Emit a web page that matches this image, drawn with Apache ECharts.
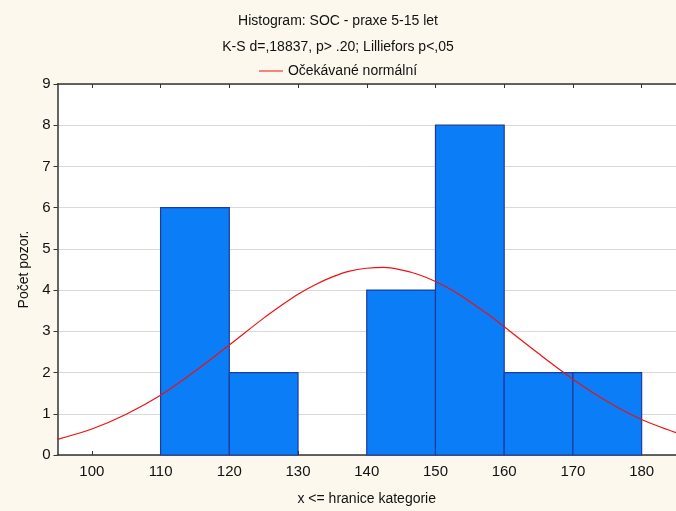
<!DOCTYPE html>
<html><head><meta charset="utf-8">
<script src="https://cdn.jsdelivr.net/npm/echarts@6/dist/echarts.min.js"></script>
<style>html,body{margin:0;padding:0;background:#fdf8ee}#c{width:676px;height:511px}</style>
</head><body><div id="c"></div>
<script>
var binStart = [110, 120, 130, 140, 150, 160, 170];
var binEnd   = [120, 130, 140, 150, 160, 170, 180];
var counts   = [6, 2, 0, 4, 8, 2, 2];
var curveX = [95,100,105,110,115,120,125,127.5,130,132.5,135,137.5,140,142.5,145,147.5,150,152.5,155,157.5,160,165,170,175,180,185];
var curveY = [0.38,0.63,0.99,1.45,2.03,2.67,3.32,3.62,3.90,4.13,4.32,4.46,4.53,4.55,4.49,4.38,4.21,3.99,3.72,3.43,3.11,2.46,1.84,1.30,0.86,0.54];
var xTicks = [100,110,120,130,140,150,160,170,180];
var title1 = 'Histogram: SOC - praxe 5-15 let';
var title2 = 'K-S d=,18837, p> .20; Lilliefors p<,05';
var legendName = 'Očekávané normální';

var font = '"Liberation Sans", Arial, sans-serif';
var chart = echarts.init(document.getElementById('c'));
var barData = binStart.map(function(s, i){ return [s, binEnd[i], counts[i]]; });
var curveData = curveX.map(function(x, i){ return [x, curveY[i]]; });

chart.setOption({
  backgroundColor: '#fdf8ee',
  animation: false,
  title: [
    {text: title1, left: 'center', top: 9, textStyle:{fontFamily: font, fontSize: 14, fontWeight: 'normal', color:'#111'}},
    {text: title2, left: 'center', top: 35, textStyle:{fontFamily: font, fontSize: 14, fontWeight: 'normal', color:'#111'}}
  ],
  legend: {
    top: 59, left: 'center',
    itemWidth: 24, itemHeight: 10, itemGap: 6,
    textStyle: {fontFamily: font, fontSize: 14, color: '#111'},
    data: [{name: legendName, icon: 'path://M0,5 L24,5 L24,6 L0,6 Z'}]
  },
  grid: {left: 57.5, right: -2.5, top: 84, bottom: 55, show: true, backgroundColor: '#ffffff', borderWidth: 0},
  xAxis: [{
    type: 'value', min: 95, max: 185, position: 'bottom',
    name: 'x <= hranice kategorie', nameLocation: 'middle', nameGap: 37,
    nameTextStyle: {fontFamily: font, fontSize: 14, color: '#111'},
    axisLine: {show: true, onZero: false, lineStyle: {color: '#333', width: 1.5}},
    axisTick: {show: true, inside: true, length: 4, customValues: xTicks, lineStyle:{color:'#333'}},
    axisLabel: {customValues: xTicks, fontFamily: font, fontSize: 15, color: '#111', margin: 9},
    splitLine: {show: false}
  }, {
    type: 'value', min: 95, max: 185, position: 'top',
    axisLine: {show: true, onZero: false, lineStyle: {color: '#333', width: 1.5}},
    axisTick: {show: true, inside: true, length: 4, customValues: xTicks, lineStyle:{color:'#333'}},
    axisLabel: {show: false},
    splitLine: {show: false}
  }],
  yAxis: {
    type: 'value', min: 0, max: 9, interval: 1,
    name: 'Počet pozor.', nameLocation: 'middle', nameGap: 25,
    nameTextStyle: {fontFamily: font, fontSize: 14, color: '#111'},
    axisLine: {show: true, lineStyle: {color: '#333', width: 1.5}},
    axisTick: {show: true, length: 4, lineStyle:{color:'#333'}},
    axisLabel: {fontFamily: font, fontSize: 15, color: '#111', margin: 7},
    splitLine: {show: true, lineStyle: {color: '#d9d9d9', width: 1}}
  },
  series: [{
    type: 'custom',
    data: barData,
    encode: {x: [0, 1], y: 2},
    renderItem: function(params, api){
      var p0 = api.coord([api.value(0), api.value(2)]);
      var p1 = api.coord([api.value(1), 0]);
      if (api.value(2) <= 0) return null;
      return {
        type: 'rect',
        shape: {x: p0[0], y: p0[1], width: p1[0] - p0[0], height: p1[1] - p0[1]},
        style: {fill: '#0a7df7', stroke: '#1b3c9e', lineWidth: 1.2}
      };
    },
    z: 2
  }, {
    name: legendName,
    type: 'line',
    data: curveData,
    smooth: 0.3,
    symbol: 'none',
    lineStyle: {color: '#ee1111', width: 1.2},
    itemStyle: {color: '#ee1111'},
    z: 5
  }]
});
</script></body></html>
